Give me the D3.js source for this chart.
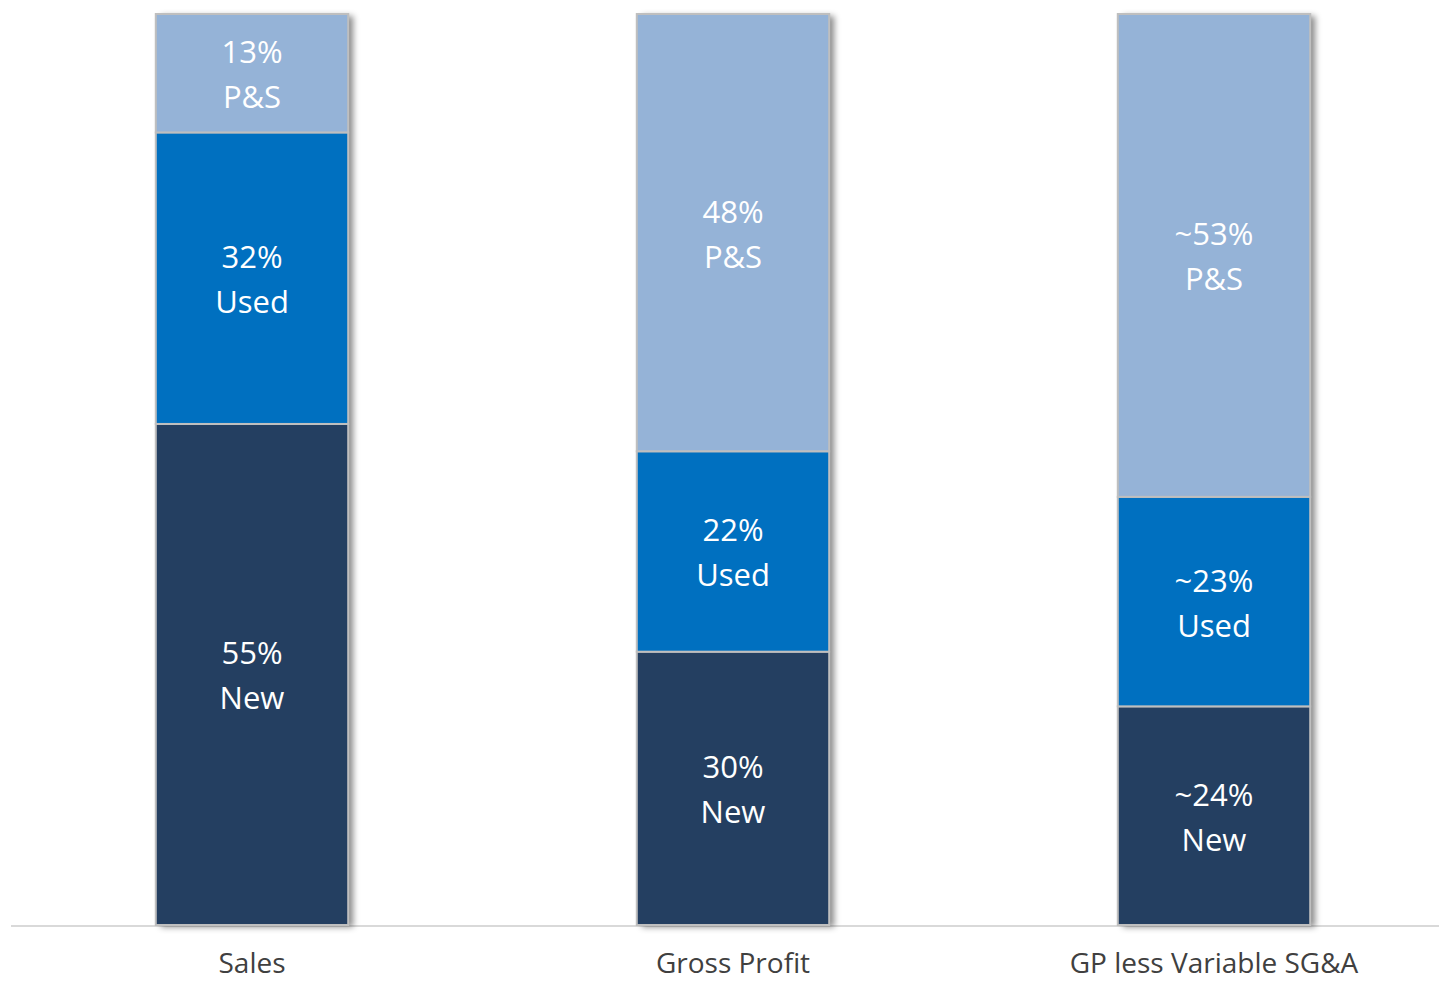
<!DOCTYPE html>
<html>
<head>
<meta charset="utf-8">
<script src="https://cdn.jsdelivr.net/npm/d3@7"></script>
<style>
  body { margin: 0; background: #fff; }
  text { font-family: "Open Sans", "Noto Sans", sans-serif; }
</style>
</head>
<body>
<svg id="chart" width="1439" height="981"></svg>
<script>
var categories = ["Sales", "Gross Profit", "GP less Variable SG&A"];
var segments = ["New", "Used", "P&S"];
var newValues = [55, 30, 24];
var usedValues = [32, 22, 23];
var psValues = [13, 48, 53];
var valueLabels = [
  ["55%", "30%", "~24%"],
  ["32%", "22%", "~23%"],
  ["13%", "48%", "~53%"]
];
var colors = ["#243F61", "#0070C0", "#95B3D7"];

var svg = d3.select("#chart"),
    width = +svg.attr("width"),
    height = +svg.attr("height");

var x = d3.scaleBand().domain(categories)
    .range([11.5, 1454.5]).paddingInner(0.6).paddingOuter(0.3);
var y = d3.scaleLinear().domain([0, 100]).range([925, 14]);

var defs = svg.append("defs");
var f = defs.append("filter").attr("id", "shadow")
    .attr("x", "-10%").attr("y", "-5%").attr("width", "130%").attr("height", "110%");
f.append("feDropShadow").attr("dx", 5).attr("dy", 2).attr("stdDeviation", 3)
    .attr("flood-color", "#000").attr("flood-opacity", 0.45);

var rows = categories.map(function(c, i) {
  return {cat: c, New: newValues[i], Used: usedValues[i], "P&S": psValues[i], idx: i};
});
var stacked = d3.stack().keys(segments)(rows);

// axis line
svg.append("line")
    .attr("x1", 11).attr("x2", width)
    .attr("y1", y(0) + 1).attr("y2", y(0) + 1)
    .attr("stroke", "#D9D9D9").attr("stroke-width", 2);

// shadows behind whole bars
svg.append("g").selectAll("rect")
  .data(rows)
  .enter().append("rect")
    .attr("x", function(d) { return x(d.cat); })
    .attr("y", y(100))
    .attr("width", x.bandwidth())
    .attr("height", y(0) - y(100))
    .attr("fill", "#fff")
    .attr("filter", "url(#shadow)");

var layers = svg.append("g").selectAll("g")
  .data(stacked)
  .enter().append("g")
    .attr("fill", function(d, i) { return colors[i]; });

layers.selectAll("rect")
  .data(function(d) { return d; })
  .enter().append("rect")
    .attr("x", function(d) { return x(d.data.cat); })
    .attr("y", function(d) { return y(d[1]); })
    .attr("width", x.bandwidth())
    .attr("height", function(d) { return y(d[0]) - y(d[1]); })
    .attr("stroke", "#BFBFBF")
    .attr("stroke-width", 2);

layers.each(function(layer, li) {
  var g = d3.select(this);
  var t = g.selectAll("text.lbl")
    .data(layer)
    .enter().append("text")
      .attr("class", "lbl")
      .attr("text-anchor", "middle")
      .attr("fill", "#fff")
      .style("font-size", "31px")
      .attr("x", function(d) { return x(d.data.cat) + x.bandwidth() / 2; })
      .attr("y", function(d) { return (y(d[0]) + y(d[1])) / 2; });
  t.append("tspan")
      .attr("x", function(d) { return x(d.data.cat) + x.bandwidth() / 2; })
      .attr("dy", "-10")
      .text(function(d) { return valueLabels[li][d.data.idx]; });
  t.append("tspan")
      .attr("x", function(d) { return x(d.data.cat) + x.bandwidth() / 2; })
      .attr("dy", "45")
      .text(segments[li]);
});

// category labels
svg.append("g").selectAll("text")
  .data(categories)
  .enter().append("text")
    .attr("x", function(d) { return x(d) + x.bandwidth() / 2; })
    .attr("y", 973)
    .attr("text-anchor", "middle")
    .attr("fill", "#404040")
    .style("font-size", "28px")
    .text(function(d) { return d; });
</script>
</body>
</html>
